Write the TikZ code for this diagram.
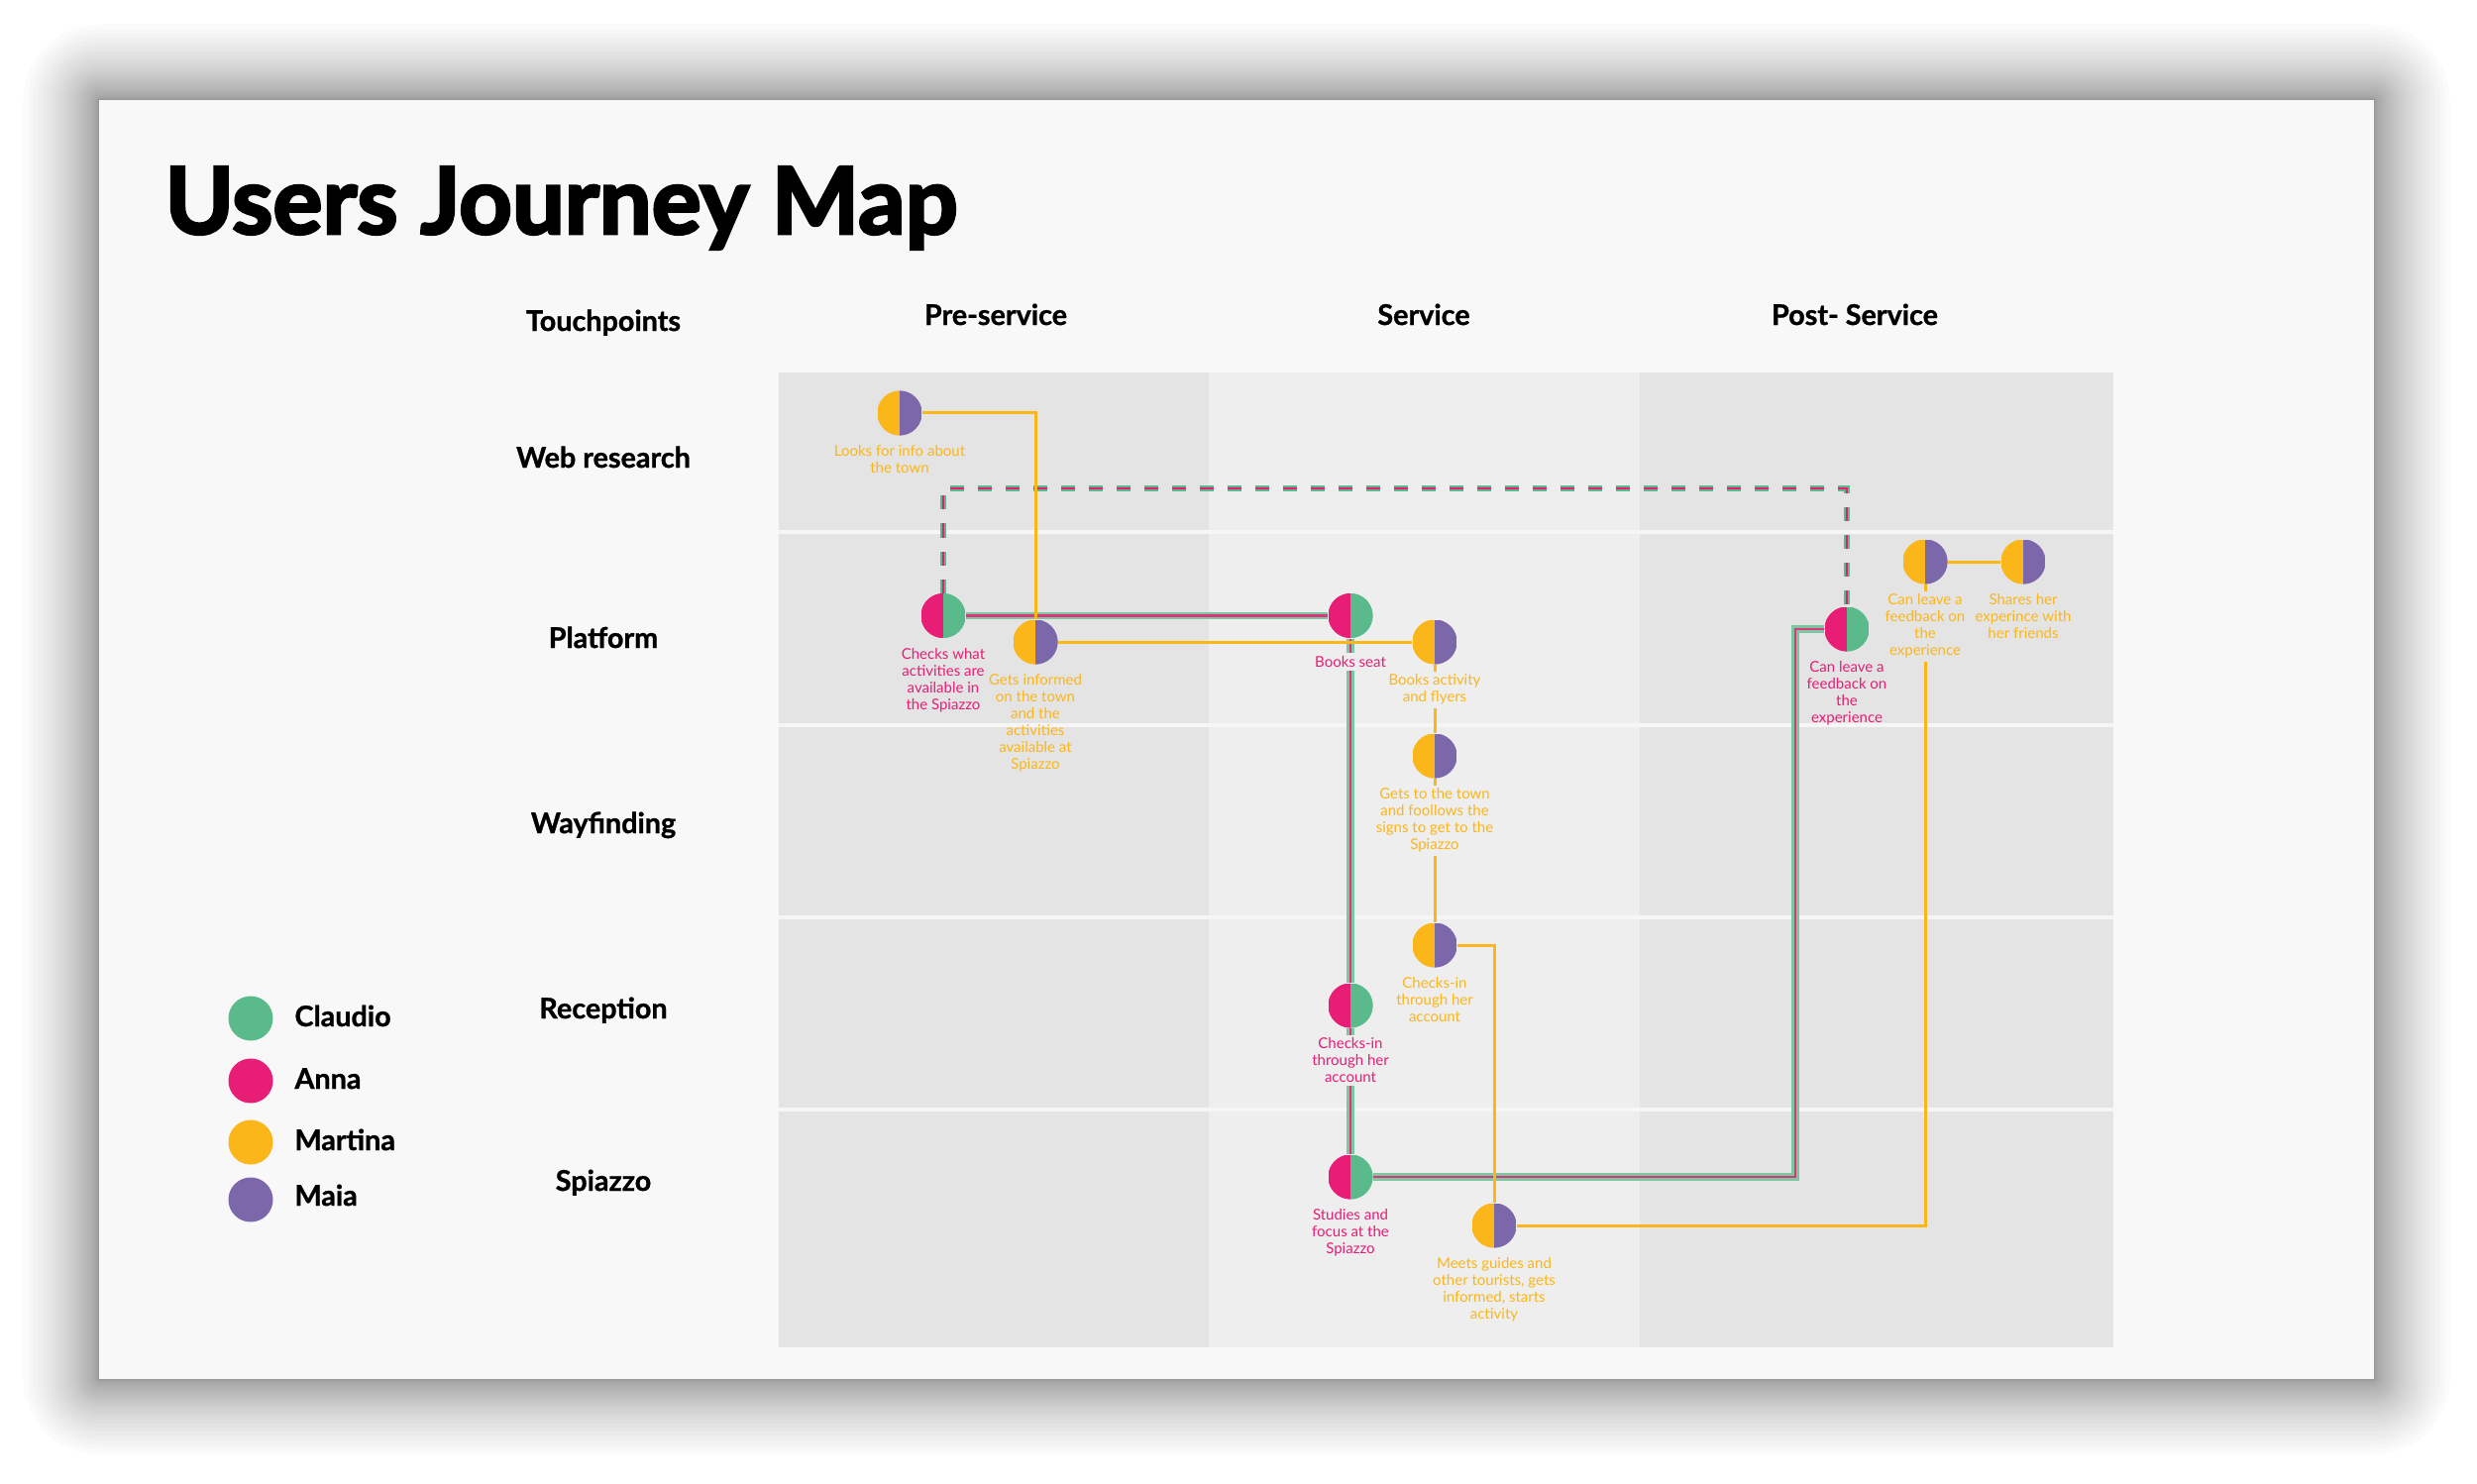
\documentclass[tikz,border=0pt]{standalone}
\usepackage{fontspec}
\setmainfont{Lato}
\newfontfamily\heavyfont{Lato}[BoldFeatures={FakeBold=3}]
\newfontfamily\semiheavy{Lato}[BoldFeatures={FakeBold=1}]
\usetikzlibrary{positioning}
\definecolor{cgreen}{HTML}{5BBA8C}
\definecolor{cpink}{HTML}{E71D76}
\definecolor{cyellow}{HTML}{FBB61A}
\definecolor{cpurple}{HTML}{7D67AB}
\definecolor{lgreen}{HTML}{7CC6A1}
\definecolor{lpink}{HTML}{E0357C}
\definecolor{cardbg}{HTML}{F8F8F8}
\definecolor{coldark}{HTML}{E4E4E4}
\definecolor{collight}{HTML}{EEEEEE}
\definecolor{sepcol}{HTML}{F6F6F6}
\tikzset{
  half/.style 2 args={circle, minimum size=18pt, inner sep=0pt,
    path picture={\fill[#1] (path picture bounding box.south west) rectangle (path picture bounding box.north);
                  \fill[#2] (path picture bounding box.north) rectangle (path picture bounding box.south east);}},
  pgs/.style={half={cpink}{cgreen}},
  yms/.style={half={cyellow}{cpurple}},
  dot/.style={circle, minimum size=18pt, inner sep=0pt, fill=#1},
  smalltext/.style={font=\fontsize{6}{6.8}\selectfont, align=center, inner sep=1.3pt},
  plab/.style={smalltext, text=cpink},
  ylab/.style={smalltext, text=cyellow},
  head/.style={font=\semiheavy\fontsize{11.5}{13}\selectfont\bfseries, anchor=base},
  legtext/.style={font=\semiheavy\fontsize{11.5}{13}\selectfont\bfseries, anchor=base west, inner sep=0pt},
  oline/.style={draw=cyellow, line width=1.2pt},
  gpline/.style={draw=lgreen, line width=0.95pt, double=lpink, double distance=1pt},
  gpdash/.style={draw=cgreen, line width=1.05pt, double=cpink, double distance=0.6pt, dash pattern=on 5.6pt off 5.6pt},
  sepline/.style={draw=sepcol, line width=1.6pt},
}
\begin{document}
\begin{tikzpicture}[x=0.4pt,y=-0.4pt]
\useasboundingbox (0,0) rectangle (2500,1498);
\fill[white] (0,0) rectangle (2500,1498);
% shadow
\foreach \k in {1,...,30} {
  \pgfmathsetmacro\dd{0.085*\k*\k}
  \pgfmathsetmacro\rr{0.4*\dd+0.1}
  \fill[black, opacity=0.015, rounded corners=\rr pt] (100-\dd,101-\dd) rectangle (2396+\dd,1392+\dd);
}
% card
\fill[cardbg] (100,101) rectangle (2396,1392);
% title
\node[font=\heavyfont\fontsize{37.5}{44}\selectfont\bfseries, anchor=base west, inner sep=0pt] (title) at (166,236) {Users Journey Map};
% headers
\node[head] (hTouch) at (609,334) {Touchpoints};
\node[head] (hPre) at (1005,328) {Pre-service};
\node[head] (hServ) at (1437,328) {Service};
\node[head] (hPost) at (1872,328) {Post- Service};
% columns
\fill[coldark] (786,376) rectangle (1220,1360);
\fill[collight] (1220,376) rectangle (1655,1360);
\fill[coldark] (1655,376) rectangle (2133,1360);
\foreach \yy in {537,732,926,1120} { \draw[sepline] (786,\yy) -- (2133,\yy); }
% row labels
\node[head] (rWeb) at (609,472) {Web research};
\node[head] (rPlat) at (609,654) {Platform};
\node[head] (rWay) at (609,841) {Wayfinding};
\node[head] (rRec) at (609,1028) {Reception};
\node[head] (rSpi) at (609,1202) {Spiazzo};
% legend
\node[dot=cgreen] (lg1) at (253,1028) {};
\node[dot=cpink] (lg2) at (253,1091) {};
\node[dot=cyellow] (lg3) at (253,1153) {};
\node[dot=cpurple] (lg4) at (253,1211) {};
\node[legtext] (lt1) at (297,1036) {Claudio};
\node[legtext] (lt2) at (297,1099) {Anna};
\node[legtext] (lt3) at (297,1161) {Martina};
\node[legtext] (lt4) at (297,1217) {Maia};
% journey circles
\node[yms] (web) at (908,417) {};
\node[pgs] (checks) at (952,621.5) {};
\node[yms] (getsinf) at (1045,648) {};
\node[pgs] (booksseat) at (1363,621.5) {};
\node[yms] (booksact) at (1448,648) {};
\node[yms] (getstown) at (1448,763) {};
\node[yms] (checkinY) at (1448,954) {};
\node[pgs] (checkinP) at (1363,1015) {};
\node[pgs] (studies) at (1363,1188) {};
\node[yms] (meets) at (1508,1237) {};
\node[pgs] (canleaveP) at (1864,635) {};
\node[yms] (canleaveY) at (1943,567) {};
\node[yms] (shares) at (2042,567) {};
\coordinate (dturn) at (1400,493);
\coordinate (gturn) at (1812,1188);
% connectors
\path[gpdash] (checks.north) |- (dturn) -| (canleaveP.north);
\path[gpline] (checks.east) -- (booksseat.west);
\path[gpline] (booksseat.south) -- (checkinP.north);
\path[gpline] (checkinP.south) -- (studies.north);
\path[gpline] (studies.east) -| (gturn) |- (canleaveP.west);
\draw[oline] (web.east) -| (getsinf.north);
\draw[oline] (getsinf.east) -- (booksact.west);
\draw[oline] (booksact.south) -- (getstown.north);
\draw[oline] (getstown.south) -- (checkinY.north);
\draw[oline] (checkinY.east) -| (meets.north);
\draw[oline] (meets.east) -| (canleaveY.south);
\draw[oline] (canleaveY.east) -- (shares.west);
% redraw circles on top of connectors
\node[yms] at (web) {};
\node[pgs] at (checks) {};
\node[yms] at (getsinf) {};
\node[pgs] at (booksseat) {};
\node[yms] at (booksact) {};
\node[yms] at (getstown) {};
\node[yms] at (checkinY) {};
\node[pgs] at (checkinP) {};
\node[pgs] at (studies) {};
\node[yms] at (meets) {};
\node[pgs] at (canleaveP) {};
\node[yms] at (canleaveY) {};
\node[yms] at (shares) {};
% labels
\node[ylab, below=2.4pt of web] (webL) {Looks for info about\\the town};
\node[plab, below=2.4pt of checks] (checksL) {Checks what\\activities are\\available in\\the Spiazzo};
\node[ylab, below=2.4pt of getsinf] (getsinfL) {Gets informed\\on the town\\and the\\activities\\available at\\Spiazzo};
\node[plab, fill=collight, below=5.6pt of booksseat] (booksseatL) {Books seat};
\node[ylab, fill=collight, below=2.4pt of booksact] (booksactL) {Books activity\\and flyers};
\node[ylab, fill=collight, below=2.4pt of getstown] (getstownL) {Gets to the town\\and foollows the\\signs to get to the\\Spiazzo};
\node[ylab, below=2.4pt of checkinY] (checkinYL) {Checks-in\\through her\\account};
\node[plab, fill=collight, below=2.4pt of checkinP] (checkinPL) {Checks-in\\through her\\account};
\node[plab, below=2.4pt of studies] (studiesL) {Studies and\\focus at the\\Spiazzo};
\node[ylab, below=2.4pt of meets] (meetsL) {Meets guides and\\other tourists, gets\\informed, starts\\activity};
\node[plab, below=2.4pt of canleaveP] (canleavePL) {Can leave a\\feedback on\\the\\experience};
\node[ylab, fill=coldark, below=2.4pt of canleaveY] (canleaveYL) {Can leave a\\feedback on\\the\\experience};
\node[ylab, below=2.4pt of shares] (sharesL) {Shares her\\experince with\\her friends};
\end{tikzpicture}
\end{document}
